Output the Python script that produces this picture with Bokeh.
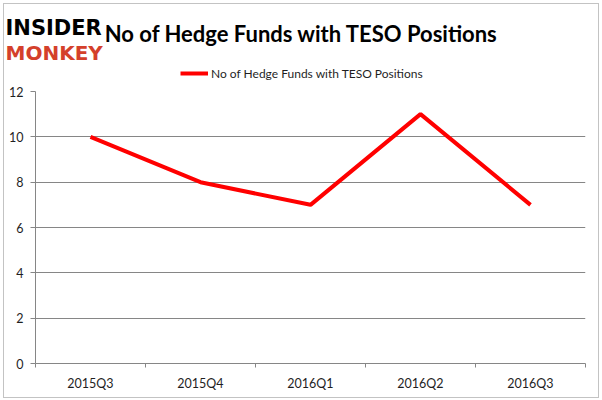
from bokeh.plotting import figure
from bokeh.layouts import column, row
from bokeh.models import (Label, Legend, LegendItem, FixedTicker, ColumnDataSource,
                          Range1d, LinearAxis)
from bokeh.embed import file_html
from bokeh.resources import INLINE

quarters = ["2015Q3", "2015Q4", "2016Q1", "2016Q2", "2016Q3"]
funds = [10, 8, 7, 11, 7]
series_name = "No of Hedge Funds with TESO Positions"
chart_title = "No of Hedge Funds with TESO Positions"
y_ticks = [0, 2, 4, 6, 8, 10, 12]

gray = "#868686"
txt = "#1f1f1f"
red = "#ff0000"

W = 594
# ---- header (logo, title, legend) ----
top = figure(width=W, height=79, x_range=Range1d(0, W), y_range=Range1d(0, 79),
             x_axis_type=None, y_axis_type=None, output_backend="svg",
             toolbar_location=None, min_border=0, min_border_left=0,
             min_border_right=0, min_border_top=0, min_border_bottom=0)
top.outline_line_color = None
top.xgrid.visible = False
top.ygrid.visible = False
nan = float("nan")
proxy = top.line(x=[nan, nan], y=[nan, nan], line_color=red, line_width=4)

top.add_layout(Label(x=1, y=56, text="INSIDER", text_font="DejaVu Sans",
                     text_font_style="bold", text_font_size="21px",
                     text_color="black", text_baseline="alphabetic"))
top.add_layout(Label(x=1, y=31, text="MONKEY", text_font="DejaVu Sans",
                     text_font_style="bold", text_font_size="20px",
                     text_color="#d4402b", text_baseline="alphabetic"))
top.add_layout(Label(x=297, y=50, text=chart_title, text_font="Lato",
                     text_font_style="bold", text_font_size="22px", text_color="black",
                     text_align="center", text_baseline="middle"))

legend = Legend(items=[LegendItem(label=series_name, renderers=[proxy])],
                location=(176, 0), orientation="horizontal",
                border_line_color=None, background_fill_alpha=0,
                label_text_font="Lato", label_text_font_size="12px",
                label_text_color=txt,
                glyph_width=28, glyph_height=20, label_standoff=3, padding=0, margin=0)
top.add_layout(legend, "center")

# ---- main chart ----
n = len(quarters)
centers = [i + 0.5 for i in range(n)]
src = ColumnDataSource(dict(x=centers, v=funds))
p = figure(width=W, height=314, x_range=Range1d(0, n), y_range=Range1d(0, 12),
           x_axis_location=None, output_backend="svg", toolbar_location=None,
           min_border_left=31, min_border_right=13, min_border_top=8, min_border_bottom=34)
p.outline_line_color = None

p.line("x", "v", source=src, line_color=red, line_width=4)

p.yaxis.ticker = FixedTicker(ticks=y_ticks)
p.yaxis.axis_line_color = gray
p.yaxis.major_tick_line_color = gray
p.yaxis.major_tick_out = 5
p.yaxis.major_tick_in = 0
p.yaxis.minor_tick_line_color = None
p.yaxis.major_label_text_font = "Lato"
p.yaxis.major_label_text_font_size = "12.5px"
p.yaxis.major_label_text_color = txt
p.yaxis.major_label_standoff = 7

band_axis = LinearAxis(ticker=FixedTicker(ticks=list(range(n + 1))),
                       major_label_overrides={i: "" for i in range(n + 1)},
                       major_label_text_font_size="1px", major_label_standoff=0,
                       axis_line_color=gray, major_tick_line_color=gray,
                       major_tick_out=4, major_tick_in=0, minor_tick_line_color=None)
p.add_layout(band_axis, "below")

label_axis = LinearAxis(ticker=FixedTicker(ticks=centers),
                        major_label_overrides={c: q for c, q in zip(centers, quarters)},
                        axis_line_color=None, major_tick_line_color=None,
                        minor_tick_line_color=None,
                        major_label_text_font="Lato", major_label_text_font_size="12.5px",
                        major_label_text_color=txt, major_label_standoff=2)
p.add_layout(label_axis, "below")

p.xgrid.grid_line_color = None
p.ygrid.grid_line_color = gray
p.ygrid.grid_line_width = 1

layout = column(row(top, spacing=0), p, spacing=0,
                styles={"border": "1px solid #c3c3c3", "margin": "3px"})
open("out.html", "w").write(file_html(layout, INLINE))
